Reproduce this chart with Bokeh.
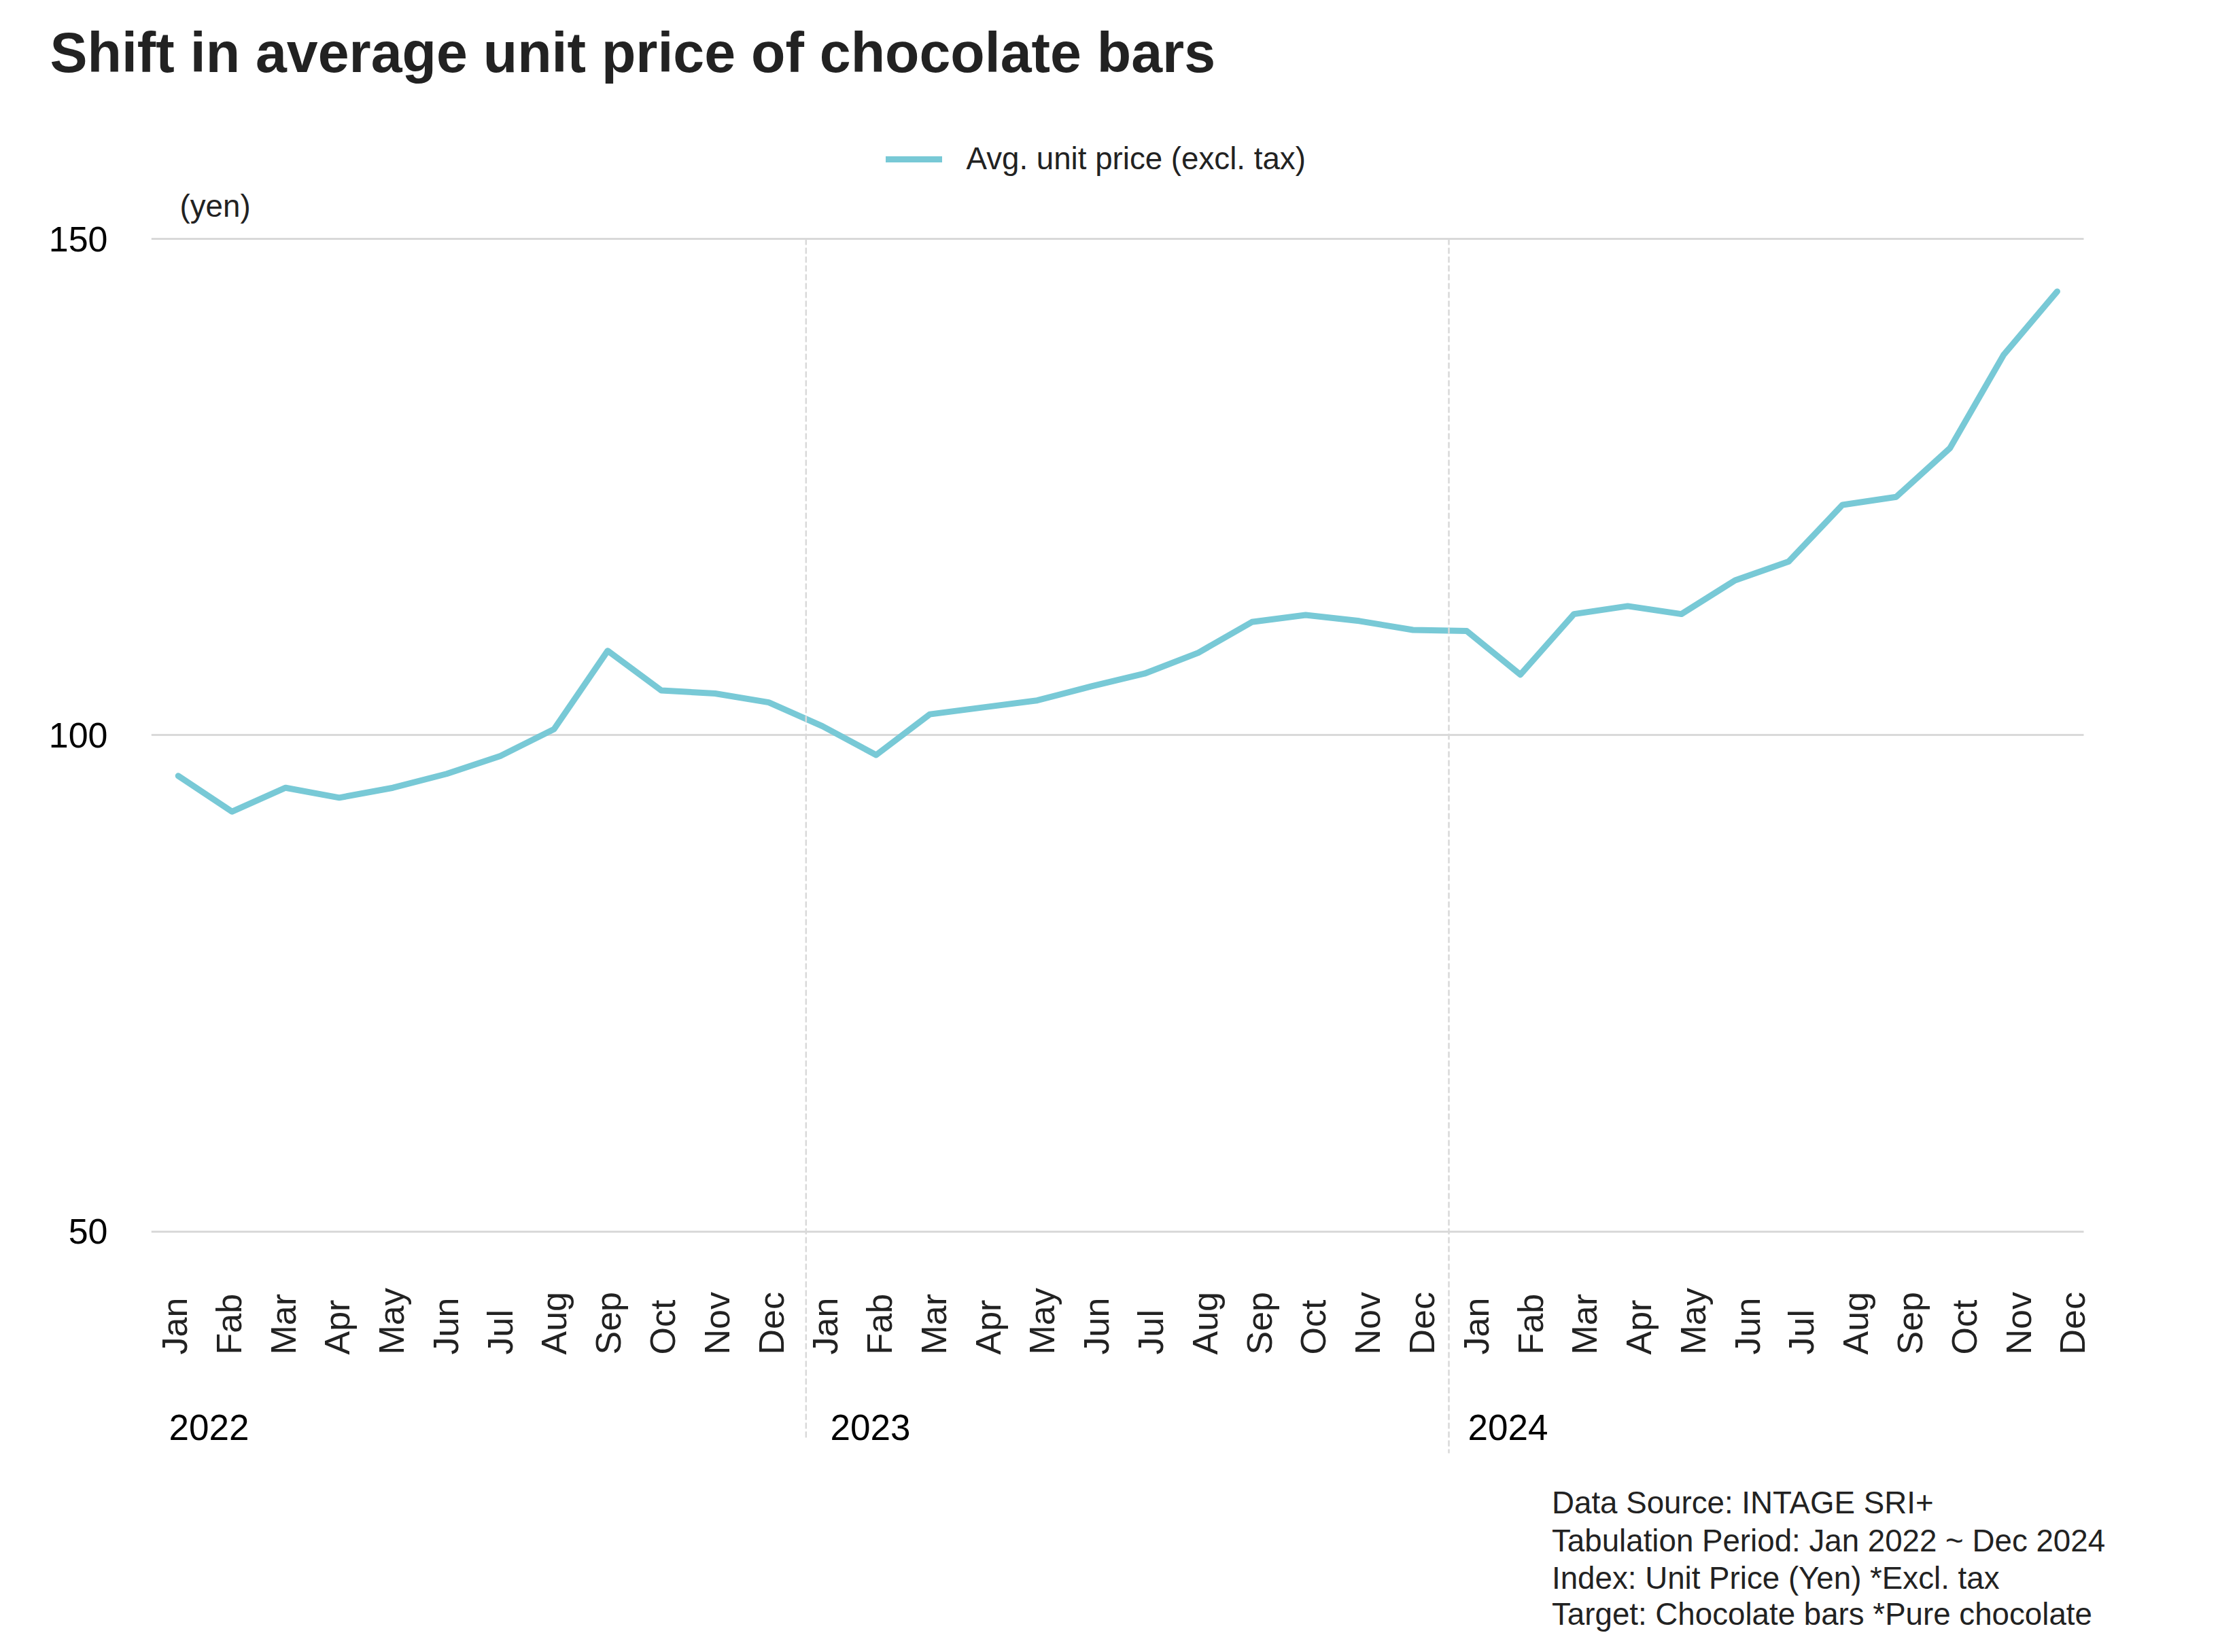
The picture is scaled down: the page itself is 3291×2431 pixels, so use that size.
import math
from bokeh.plotting import figure
from bokeh.models import (ColumnDataSource, FixedTicker, Label, LabelSet,
                          Legend, LegendItem, Range1d)
from bokeh.core.properties import value
from bokeh.embed import file_html
from bokeh.resources import INLINE

# ---------------- data ----------------
MONTHS = ["Jan", "Fab", "Mar", "Apr", "May", "Jun",
          "Jul", "Aug", "Sep", "Oct", "Nov", "Dec"]
YEARS = ["2022", "2023", "2024"]
PRICE_2022 = [95.9, 92.3, 94.7, 93.7, 94.7, 96.1, 97.9, 100.6, 108.5, 104.5, 104.2, 103.3]
PRICE_2023 = [100.9, 98.0, 102.1, 102.8, 103.5, 104.9, 106.2, 108.3, 111.4, 112.1, 111.5, 110.6]
PRICE_2024 = [110.5, 106.1, 112.2, 113.0, 112.2, 115.6, 117.5, 123.2, 124.0, 128.9, 138.3, 144.7]
Y_TICKS = [50, 100, 150]

TITLE = "Shift in average unit price of chocolate bars"
SERIES_LABEL = "Avg. unit price (excl. tax)"
UNIT_LABEL = "(yen)"
NOTES = ["Data Source: INTAGE SRI+",
         "Tabulation Period: Jan 2022 ~ Dec 2024",
         "Index: Unit Price (Yen) *Excl. tax",
         "Target: Chocolate bars *Pure chocolate"]

# ---------------- style / layout (pixels) ----------------
FONT = "Liberation Sans"
LINE_COLOR = "#78c9d6"
GRID_COLOR = "#d9d9d9"
TEXT_DARK = "#222222"
SMALL = 45.7      # legend / unit / notes font size (px)
MID = 52          # tick + month font size (px)
YEAR_SIZE = 53

W, H = 3275, 2415
FRAME_L, FRAME_R, FRAME_T, FRAME_B = 222, 3140, 140, 2410   # canvas px

# mapping between values and pixels
Y_TOP_VAL, Y_TOP_PX, PX_PER_UNIT = 150, 351.0, 14.606
X0_PX, PX_PER_MONTH = 261.7, 78.98          # data points
LBL0_PX, LBL_STEP = 274.5, 79.78            # month label baselines
GRID_X_PX = (222, 3065)                     # horizontal grid extent
MID_OFF = 0.3465                            # em offset baseline -> middle


def xval(px):
    return (px - X0_PX) / PX_PER_MONTH


def yval(py):
    return Y_TOP_VAL - (py - Y_TOP_PX) / PX_PER_UNIT


def sx(px):
    return px - FRAME_L


def sy_mid(baseline_py, size):
    # labels are anchored at their middle; convert a baseline position
    return FRAME_B - (baseline_py - MID_OFF * size)


def sy(py):
    return FRAME_B - py


prices = PRICE_2022 + PRICE_2023 + PRICE_2024
idx = list(range(len(prices)))
month_labels = MONTHS * len(YEARS)

p = figure(width=W, height=H, output_backend="svg", toolbar_location=None, tools="",
           x_range=Range1d(xval(FRAME_L), xval(FRAME_R)),
           y_range=Range1d(yval(FRAME_B), yval(FRAME_T)),
           x_axis_type=None,
           min_border_left=FRAME_L, min_border_right=W - FRAME_R,
           min_border_top=FRAME_T, min_border_bottom=H - FRAME_B)
p.extra_x_ranges = {"months": Range1d((FRAME_L - LBL0_PX) / LBL_STEP,
                                      (FRAME_R - LBL0_PX) / LBL_STEP)}
p.outline_line_color = None
p.background_fill_color = "white"
p.border_fill_color = "white"

# title (in the panel above the frame)
p.title.text = TITLE
p.title.align = "left"
p.title.offset = 73 - FRAME_L
p.title.vertical_align = "bottom"
p.title.standoff = 35
p.title.text_font = FONT
p.title.text_font_size = "82.5px"
p.title.text_font_style = "bold"
p.title.text_color = TEXT_DARK

# y axis + grid
p.yaxis.ticker = FixedTicker(ticks=Y_TICKS)
p.yaxis.axis_line_color = None
p.yaxis.major_tick_line_color = None
p.yaxis.minor_tick_line_color = None
p.yaxis.major_tick_out = 0
p.yaxis.major_tick_in = 0
p.yaxis.major_label_standoff = 64
p.yaxis.major_label_text_font = FONT
p.yaxis.major_label_text_font_size = f"{MID}px"
p.yaxis.major_label_text_color = "#000000"
p.ygrid.ticker = FixedTicker(ticks=Y_TICKS)
p.ygrid.grid_line_color = GRID_COLOR
p.ygrid.grid_line_width = 3
p.ygrid.cross_bounds = (xval(GRID_X_PX[0]), xval(GRID_X_PX[1]))

src = ColumnDataSource(dict(x=idx, price=prices, month=month_labels))
r = p.line("x", "price", source=src, line_color=LINE_COLOR, line_width=9,
           line_cap="round", line_join="round")

# year separators (dashed)
SEP_PX = [1185.3, 2131.0]
SEP_END_PY = [2115.0, 2138.0]
p.segment(x0=[xval(v) for v in SEP_PX], y0=[Y_TOP_VAL] * 2,
          x1=[xval(v) for v in SEP_PX], y1=[yval(v) for v in SEP_END_PY],
          line_color=GRID_COLOR, line_width=2.5, line_dash="9 4")

# month labels
p.add_layout(LabelSet(x="x", y=sy(1993), y_units="screen", x_range_name="months",
                      text="month", source=src, angle=math.pi / 2,
                      text_align="left", text_baseline="alphabetic",
                      text_font=value(FONT), text_font_size=value(f"{MID}px"),
                      text_color=TEXT_DARK))

# year labels
YEAR_PX = [248, 1221, 2159]
for yr, px in zip(YEARS, YEAR_PX):
    p.add_layout(Label(x=sx(px), y=sy_mid(2118.3, YEAR_SIZE), x_units="screen",
                       y_units="screen", text=yr, text_font=FONT,
                       text_font_size=f"{YEAR_SIZE}px", text_color="#000000",
                       text_align="left", text_baseline="middle"))

# legend
legend = Legend(items=[LegendItem(label=SERIES_LABEL, renderers=[r])],
                location=(sx(1302.5), sy(260)), orientation="horizontal",
                glyph_width=83, glyph_height=50, label_height=50, label_standoff=36,
                padding=0, margin=0, spacing=0, border_line_color=None,
                background_fill_alpha=0, label_text_font=FONT,
                label_text_font_size=f"{SMALL}px", label_text_color=TEXT_DARK)
p.add_layout(legend)

# unit label
p.add_layout(Label(x=sx(264), y=sy_mid(318.5, SMALL), x_units="screen", y_units="screen",
                   text=UNIT_LABEL, text_font=FONT, text_font_size=f"{SMALL}px",
                   text_color=TEXT_DARK, text_align="left", text_baseline="middle"))

# footnotes
NOTE_BASELINES = [2226.8, 2282.5, 2337.5, 2391.0]
for txt, base in zip(NOTES, NOTE_BASELINES):
    p.add_layout(Label(x=sx(2282.5), y=sy_mid(base, SMALL), x_units="screen",
                       y_units="screen", text=txt, text_font=FONT,
                       text_font_size=f"{SMALL}px", text_color=TEXT_DARK,
                       text_align="left", text_baseline="middle"))

open("out.html", "w").write(file_html(p, INLINE))
